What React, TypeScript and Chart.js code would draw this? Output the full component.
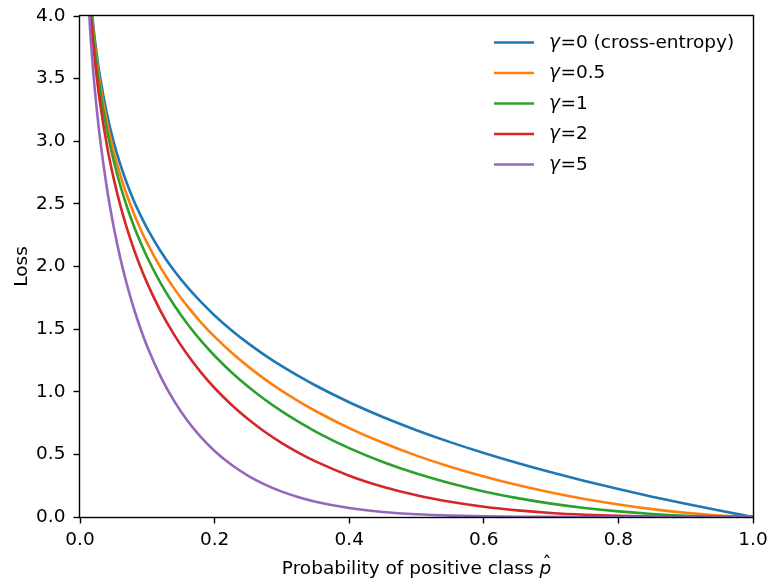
import React, { useEffect, useRef } from "react";
import { Chart, registerables } from "chart.js";

Chart.register(...registerables);

// Probability of positive class (x values)
const probabilities = [
  0.01, 0.015, 0.02, 0.025, 0.03, 0.04, 0.05, 0.06, 0.07, 0.08, 0.09, 0.1,
  0.12, 0.14, 0.16, 0.18, 0.2, 0.225, 0.25, 0.275, 0.3, 0.325, 0.35, 0.4,
  0.45, 0.5, 0.55, 0.6, 0.65, 0.7, 0.75, 0.8, 0.85, 0.9, 0.95, 1.0,
];

const lossGamma0 = [
  4.6052, 4.1997, 3.912, 3.6889, 3.5066, 3.2189, 2.9957, 2.8134, 2.6593,
  2.5257, 2.4079, 2.3026, 2.1203, 1.9661, 1.8326, 1.7148, 1.6094, 1.4917,
  1.3863, 1.291, 1.204, 1.1239, 1.0498, 0.9163, 0.7985, 0.6931, 0.5978,
  0.5108, 0.4308, 0.3567, 0.2877, 0.2231, 0.1625, 0.1054, 0.0513, 0,
];
const lossGamma05 = [
  4.5821, 4.1681, 3.8727, 3.6425, 3.4536, 3.1539, 2.9199, 2.7277, 2.5646,
  2.4226, 2.297, 2.1844, 1.989, 1.8233, 1.6796, 1.5528, 1.4395, 1.3132,
  1.2006, 1.0992, 1.0073, 0.9234, 0.8464, 0.7098, 0.5922, 0.4901, 0.401,
  0.3231, 0.2549, 0.1954, 0.1438, 0.0998, 0.0629, 0.0333, 0.0115, 0,
];
const lossGamma1 = [
  4.5591, 4.1367, 3.8338, 3.5967, 3.4014, 3.0901, 2.8459, 2.6446, 2.4731,
  2.3236, 2.1912, 2.0723, 1.8659, 1.6908, 1.5394, 1.4061, 1.2875, 1.1561,
  1.0397, 0.936, 0.8428, 0.7586, 0.6824, 0.5498, 0.4392, 0.3466, 0.269,
  0.2043, 0.1508, 0.107, 0.0719, 0.0446, 0.0244, 0.0105, 0.0026, 0,
];
const lossGamma2 = [
  4.5135, 4.0746, 3.7571, 3.5068, 3.2994, 2.9665, 2.7036, 2.4859, 2.3,
  2.1377, 1.994, 1.8651, 1.642, 1.4541, 1.2931, 1.153, 1.03, 0.896, 0.7798,
  0.6786, 0.59, 0.5121, 0.4436, 0.3299, 0.2416, 0.1733, 0.1211, 0.0817,
  0.0528, 0.0321, 0.018, 0.0089, 0.0037, 0.0011, 0.0001, 0,
];
const lossGamma5 = [
  4.3795, 3.894, 3.5361, 3.2503, 3.0112, 2.6246, 2.318, 2.0648, 1.85, 1.6646,
  1.5026, 1.3597, 1.1189, 0.9249, 0.7664, 0.6357, 0.5274, 0.4171, 0.329,
  0.2586, 0.2024, 0.1575, 0.1218, 0.0713, 0.0402, 0.0217, 0.011, 0.0052,
  0.0023, 0.0009, 0.0003, 0, 0, 0, 0, 0,
];

const gammaValues = ["0", "0.5", "1", "2", "5"];
const gammaSuffix = [" (cross-entropy)", "", "", "", ""];
const seriesList = [lossGamma0, lossGamma05, lossGamma1, lossGamma2, lossGamma5];
const colors = ["#1f77b4", "#ff7f0e", "#2ca02c", "#d62728", "#9467bd"];

const xTicks = [0, 0.2, 0.4, 0.6, 0.8, 1.0];
const yTicks = [0, 0.5, 1.0, 1.5, 2.0, 2.5, 3.0, 3.5, 4.0];

const FONT = "DejaVu Sans";
const FS = 18.5;

const decorPlugin = {
  id: "decor",
  afterDraw(chart: any) {
    const { ctx, chartArea } = chart;
    const { left, right, top, bottom } = chartArea;
    ctx.save();
    // frame
    ctx.strokeStyle = "#000";
    ctx.lineWidth = 1.4;
    ctx.strokeRect(left - 0.5, top - 0.5, right - left + 1, bottom - top + 1);

    // legend
    const lx0 = 494;
    const lx1 = 534;
    const tx = 549;
    const ty0 = 42.5;
    const dy = 30.5;
    for (let i = 0; i < gammaValues.length; i++) {
      const y = ty0 + i * dy;
      ctx.strokeStyle = colors[i];
      ctx.lineWidth = 2.6;
      ctx.beginPath();
      ctx.moveTo(lx0, y);
      ctx.lineTo(lx1, y);
      ctx.stroke();
      ctx.fillStyle = "#000";
      ctx.textBaseline = "middle";
      ctx.textAlign = "left";
      ctx.font = `italic ${FS}px ${FONT}`;
      ctx.fillText("γ", tx, y + 0.5);
      const gw = ctx.measureText("γ").width;
      ctx.font = `${FS}px ${FONT}`;
      ctx.fillText("=" + gammaValues[i] + gammaSuffix[i], tx + gw + 0.5, y + 0.5);
    }

    // x axis title
    ctx.fillStyle = "#000";
    ctx.textBaseline = "alphabetic";
    ctx.font = `${FS}px ${FONT}`;
    const base = "Probability of positive class ";
    const bw = ctx.measureText(base).width;
    ctx.font = `italic ${FS}px ${FONT}`;
    const pw = ctx.measureText("p").width;
    const total = bw + pw;
    const cx = (left + right) / 2;
    const sx = cx - total / 2;
    const by = 574;
    ctx.font = `${FS}px ${FONT}`;
    ctx.textAlign = "left";
    ctx.fillText(base, sx, by);
    ctx.font = `italic ${FS}px ${FONT}`;
    ctx.fillText("p", sx + bw, by);
    // hat
    ctx.font = `${FS}px ${FONT}`;
    ctx.textAlign = "center";
    ctx.fillText("\u02c6", sx + bw + pw / 2 + 1.5, by - 5);

    // y axis title
    ctx.save();
    ctx.translate(27, (top + bottom) / 2);
    ctx.rotate(-Math.PI / 2);
    ctx.textAlign = "center";
    ctx.textBaseline = "alphabetic";
    ctx.font = `${FS}px ${FONT}`;
    ctx.fillText("Loss", 0, 0);
    ctx.restore();

    ctx.restore();
  },
};

export default function App() {
  const canvasRef = useRef<HTMLCanvasElement>(null);

  useEffect(() => {
    document.body.style.margin = "0";
    const canvas = canvasRef.current!;
    Chart.defaults.font.family = FONT;
    Chart.defaults.font.size = FS;
    Chart.defaults.color = "#000";

    const datasets = seriesList.map((vals, i) => ({
      label: "γ=" + gammaValues[i] + gammaSuffix[i],
      data: probabilities.map((p, j) => ({ x: p, y: vals[j] })),
      borderColor: colors[i],
      backgroundColor: colors[i],
      borderWidth: 2.6,
      pointRadius: 0,
      fill: false,
      cubicInterpolationMode: "monotone" as const,
      clip: 0,
      order: seriesList.length - i,
    }));

    const tickGrid = {
      drawOnChartArea: false,
      drawTicks: true,
      tickLength: 6.5,
      tickColor: "#000",
      tickWidth: 1.4,
    };

    const chart = new Chart(canvas, {
      type: "line",
      data: { datasets },
      plugins: [decorPlugin],
      options: {
        responsive: false,
        animation: false,
        events: [],
        layout: { padding: { left: 0, top: 16, right: 18, bottom: 0 } },
        plugins: {
          legend: { display: false },
          tooltip: { enabled: false },
        },
        scales: {
          x: {
            type: "linear",
            min: 0,
            max: 1,
            afterFit: (s: any) => {
              s.height = 66;
              s.paddingLeft = 0;
              s.paddingRight = 0;
            },
            afterBuildTicks: (s: any) => {
              s.ticks = xTicks.map((v) => ({ value: v }));
            },
            ticks: {
              callback: (v: any) => Number(v).toFixed(1),
              padding: 6,
              maxRotation: 0,
              font: { size: FS, family: FONT },
              color: "#000",
            },
            grid: tickGrid,
            border: { display: false },
          },
          y: {
            type: "linear",
            min: 0,
            max: 4,
            afterFit: (s: any) => {
              s.width = 80;
              s.paddingTop = 0;
              s.paddingBottom = 0;
            },
            afterBuildTicks: (s: any) => {
              s.ticks = yTicks.map((v) => ({ value: v }));
            },
            ticks: {
              callback: (v: any) => Number(v).toFixed(1),
              padding: 8,
              font: { size: FS, family: FONT },
              color: "#000",
            },
            grid: tickGrid,
            border: { display: false },
          },
        },
      },
    });
    return () => chart.destroy();
  }, []);

  return (
    <div style={{ position: "absolute", left: 0, top: 0, width: 771, height: 583, background: "#fff" }}>
      <canvas ref={canvasRef} width={771} height={583} style={{ display: "block" }} />
    </div>
  );
}
